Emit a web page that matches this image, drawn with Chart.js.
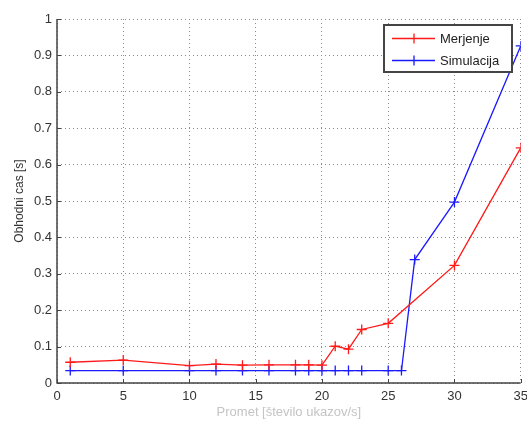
<!DOCTYPE html>
<html>
<head>
<meta charset="utf-8">
<script src="https://cdn.jsdelivr.net/npm/chart.js@4.4.1/dist/chart.umd.min.js"></script>
<style>
  html, body { margin: 0; padding: 0; background: #ffffff; }
  #wrap { width: 527px; height: 421px; position: relative; }
</style>
</head>
<body>
<div id="wrap"><canvas id="c" width="527" height="421"></canvas></div>
<script>
// Traffic (requests per second) at which each measurement was taken
const trafficMeasured = [1, 5, 10, 12, 14, 16, 18, 19, 20, 21, 22, 23, 25, 30, 35];
const roundTripMeasured = [0.057, 0.063, 0.048, 0.052, 0.049, 0.050, 0.050, 0.050, 0.049, 0.101, 0.093, 0.147, 0.164, 0.323, 0.646];

const trafficSimulated = [1, 5, 10, 12, 14, 16, 18, 19, 20, 21, 22, 23, 25, 26, 27, 30, 35];
const roundTripSimulated = [0.034, 0.034, 0.034, 0.034, 0.034, 0.034, 0.034, 0.034, 0.034, 0.034, 0.034, 0.034, 0.034, 0.034, 0.339, 0.497, 0.926];

const seriesNames = ['Merjenje', 'Simulacija'];
const xTitle = 'Promet [število ukazov/s]';
const yTitle = 'Obhodni cas [s]';

const RED = '#ff1a1a';
const BLUE = '#1a1aff';
const AXIS = '#444444';

function toPoints(xs, ys) {
  return xs.map((x, i) => ({ x: x, y: ys[i] }));
}

// Axis lines with short inward ticks, and the boxed legend in the upper right
const figureDecor = {
  id: 'figureDecor',
  afterDatasetsDraw(chart) {
    const { ctx, chartArea: a, scales } = chart;
    ctx.save();
    ctx.strokeStyle = AXIS;
    ctx.lineWidth = 1.5;
    ctx.beginPath();
    ctx.moveTo(a.left, a.top);
    ctx.lineTo(a.left, a.bottom);
    ctx.lineTo(a.right, a.bottom);
    ctx.stroke();

    ctx.lineWidth = 1;
    ctx.beginPath();
    scales.x.ticks.forEach(t => {
      const px = Math.round(scales.x.getPixelForValue(t.value)) + 0.5;
      ctx.moveTo(px, a.bottom);
      ctx.lineTo(px, a.bottom - 4);
    });
    scales.y.ticks.forEach(t => {
      const py = Math.round(scales.y.getPixelForValue(t.value)) + 0.5;
      ctx.moveTo(a.left, py);
      ctx.lineTo(a.left + 4, py);
    });
    ctx.stroke();

    // legend
    const bx = 384, by = 25, bw = 128, bh = 47;
    ctx.fillStyle = '#ffffff';
    ctx.fillRect(bx, by, bw, bh);
    ctx.strokeStyle = AXIS;
    ctx.lineWidth = 2;
    ctx.strokeRect(bx, by, bw, bh);

    const rows = [
      { name: seriesNames[0], color: RED, y: by + 13.5 },
      { name: seriesNames[1], color: BLUE, y: by + 35.5 }
    ];
    ctx.font = '13px "Liberation Sans", Arial, sans-serif';
    ctx.textBaseline = 'middle';
    ctx.textAlign = 'left';
    rows.forEach(r => {
      ctx.strokeStyle = r.color;
      ctx.lineWidth = 1.3;
      ctx.beginPath();
      ctx.moveTo(bx + 8, r.y);
      ctx.lineTo(bx + 51, r.y);
      ctx.moveTo(bx + 30, r.y - 5);
      ctx.lineTo(bx + 30, r.y + 5);
      ctx.stroke();
      ctx.fillStyle = '#222222';
      ctx.fillText(r.name, bx + 56, r.y + 1);
    });
    ctx.restore();
  }
};

new Chart(document.getElementById('c'), {
  type: 'scatter',
  data: {
    datasets: [
      {
        label: seriesNames[0],
        data: toPoints(trafficMeasured, roundTripMeasured),
        showLine: true,
        borderColor: RED,
        backgroundColor: RED,
        borderWidth: 1.3,
        pointStyle: 'cross',
        pointRadius: 5,
        pointBorderWidth: 1.3,
        pointHoverRadius: 5
      },
      {
        label: seriesNames[1],
        data: toPoints(trafficSimulated, roundTripSimulated),
        showLine: true,
        borderColor: BLUE,
        backgroundColor: BLUE,
        borderWidth: 1.3,
        pointStyle: 'cross',
        pointRadius: 5,
        pointBorderWidth: 1.3,
        pointHoverRadius: 5
      }
    ]
  },
  options: {
    responsive: false,
    animation: false,
    events: [],
    layout: { padding: { top: 19, right: 5, left: 0, bottom: 0 } },
    plugins: {
      legend: { display: false },
      tooltip: { enabled: false }
    },
    scales: {
      x: {
        type: 'linear',
        min: 0,
        max: 35,
        afterFit(s) { s.height = 38; s.paddingLeft = 0; s.paddingRight = 0; },
        ticks: {
          stepSize: 5,
          padding: 6,
          color: '#333333',
          font: { family: '"Liberation Sans", Arial, sans-serif', size: 13 },
          maxRotation: 0
        },
        grid: { color: '#8a8a8a', lineWidth: 1, drawTicks: false },
        border: { display: false, dash: [1, 3] },
        title: {
          display: true,
          text: xTitle,
          color: '#c4c4c4',
          font: { family: '"Liberation Sans", Arial, sans-serif', size: 13 },
          padding: { top: 0, bottom: 1 }
        }
      },
      y: {
        type: 'linear',
        min: 0,
        max: 1,
        afterFit(s) { s.width = 57; s.paddingTop = 0; s.paddingBottom = 0; },
        ticks: {
          stepSize: 0.1,
          padding: 5,
          color: '#333333',
          font: { family: '"Liberation Sans", Arial, sans-serif', size: 13 },
          callback: v => String(Math.round(v * 10) / 10)
        },
        grid: { color: '#8a8a8a', lineWidth: 1, drawTicks: false },
        border: { display: false, dash: [1, 3] },
        title: {
          display: true,
          text: yTitle,
          color: '#333333',
          font: { family: '"Liberation Sans", Arial, sans-serif', size: 12 },
          padding: { top: 12, bottom: 0 }
        }
      }
    }
  },
  plugins: [figureDecor]
});
</script>
</body>
</html>
